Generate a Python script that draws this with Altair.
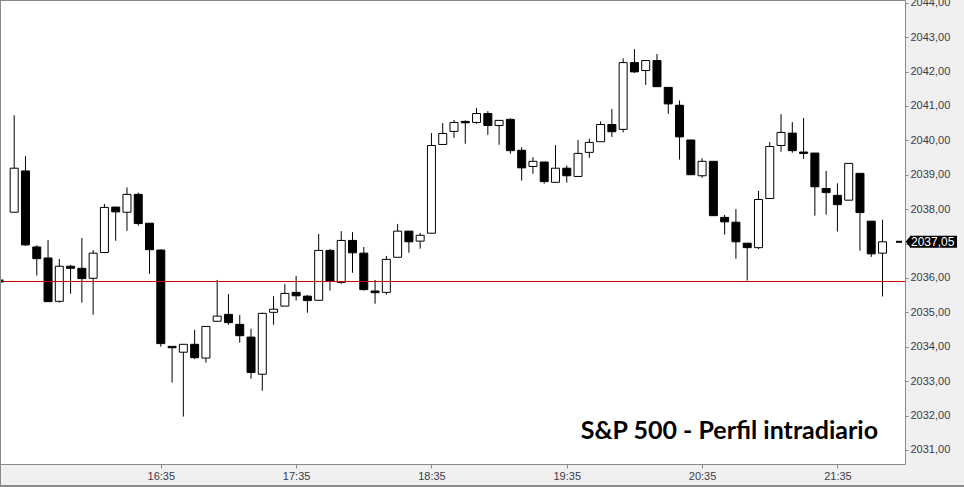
import altair as alt
import pandas as pd

# ---- data (5-minute candles, 15:30 .. 21:55) ----
opens = [2037.91, 2039.11, 2036.90, 2036.58, 2035.32, 2036.34, 2036.28, 2035.99, 2036.74, 2038.06,
         2037.91, 2038.43, 2037.59, 2036.81, 2034.01, 2033.84, 2034.07, 2033.67, 2034.74, 2034.94,
         2034.65, 2034.28, 2033.20, 2035.00, 2035.18, 2035.58, 2035.47, 2035.35, 2036.80, 2035.87,
         2037.09, 2036.72, 2035.62, 2035.58, 2036.60, 2037.36, 2037.07, 2037.30, 2039.88, 2040.26,
         2040.55, 2040.52, 2040.78, 2040.43, 2040.61, 2039.71, 2039.24, 2039.37, 2038.78, 2039.19,
         2038.95, 2039.65, 2039.96, 2040.46, 2040.32, 2042.26, 2042.03, 2042.32, 2041.54, 2041.02,
         2040.01, 2038.97, 2039.39, 2037.76, 2037.62, 2037.01, 2036.88, 2038.31, 2039.85, 2040.21,
         2039.66, 2039.63, 2038.60, 2038.40, 2038.26, 2039.04, 2037.65, 2036.72]
highs = [2040.73, 2039.54, 2036.95, 2037.10, 2036.55, 2036.38, 2037.16, 2036.81, 2038.15, 2038.06,
         2038.63, 2038.48, 2037.59, 2036.83, 2034.01, 2034.07, 2034.49, 2034.59, 2035.94, 2035.53,
         2034.92, 2034.52, 2034.99, 2035.47, 2035.82, 2036.06, 2035.50, 2037.28, 2036.84, 2037.36,
         2037.33, 2036.90, 2035.94, 2036.64, 2037.57, 2037.36, 2037.31, 2040.21, 2040.50, 2040.59,
         2040.58, 2040.94, 2040.85, 2040.58, 2040.64, 2039.80, 2039.51, 2039.37, 2039.86, 2039.27,
         2040.01, 2040.05, 2040.55, 2040.91, 2042.38, 2042.65, 2042.32, 2042.51, 2041.54, 2041.16,
         2040.01, 2039.48, 2039.39, 2037.83, 2038.00, 2037.01, 2038.53, 2039.95, 2040.76, 2040.53,
         2040.65, 2039.63, 2039.11, 2038.75, 2039.33, 2039.04, 2037.65, 2037.69]
lows = [2037.91, 2036.93, 2036.07, 2035.31, 2035.28, 2035.54, 2035.28, 2034.93, 2036.72, 2037.08,
        2037.37, 2037.52, 2036.12, 2034.00, 2032.96, 2031.97, 2033.64, 2033.54, 2034.74, 2034.64,
        2034.12, 2033.07, 2032.72, 2034.64, 2035.18, 2035.34, 2034.99, 2035.35, 2035.63, 2035.83,
        2036.15, 2035.63, 2035.25, 2035.51, 2036.60, 2036.73, 2036.85, 2037.30, 2039.88, 2040.07,
        2039.90, 2040.48, 2040.16, 2039.87, 2039.61, 2038.83, 2039.03, 2038.74, 2038.78, 2038.77,
        2038.95, 2039.49, 2039.96, 2040.10, 2040.23, 2041.96, 2041.61, 2041.56, 2040.77, 2039.44,
        2039.00, 2038.91, 2037.81, 2037.26, 2036.56, 2035.92, 2036.84, 2038.31, 2039.67, 2039.64,
        2039.46, 2037.81, 2037.84, 2037.35, 2038.26, 2036.79, 2036.61, 2035.46]
closes = [2039.19, 2036.96, 2036.56, 2035.31, 2036.34, 2036.28, 2035.98, 2036.72, 2038.05, 2037.92,
          2038.43, 2037.58, 2036.82, 2034.09, 2033.97, 2034.07, 2033.68, 2034.59, 2034.89, 2034.70,
          2034.32, 2033.25, 2034.97, 2035.09, 2035.55, 2035.48, 2035.34, 2036.80, 2035.90, 2037.09,
          2036.73, 2035.66, 2035.57, 2036.54, 2037.36, 2037.05, 2037.24, 2039.85, 2040.20, 2040.52,
          2040.51, 2040.78, 2040.43, 2040.58, 2039.70, 2039.20, 2039.39, 2038.80, 2039.19, 2038.97,
          2039.62, 2039.94, 2040.46, 2040.25, 2042.26, 2041.99, 2042.32, 2041.56, 2041.06, 2040.10,
          2039.00, 2039.39, 2037.81, 2037.63, 2037.05, 2036.88, 2038.28, 2039.82, 2040.23, 2039.70,
          2039.62, 2038.65, 2038.48, 2038.13, 2039.33, 2037.90, 2036.70, 2037.05]

x_tick_pos = [13, 25, 37, 49, 61, 73]
x_tick_labels = ["16:35", "17:35", "18:35", "19:35", "20:35", "21:35"]
y_ticks = list(range(2031, 2045))
ref_level = 2035.91
last_price = 2037.05
last_price_label = "2037,05"
hidden_tick_label = 2037  # covered by the last-price tag in the reference
title_text = "S&P 500 - Perfil intradiario"

df = pd.DataFrame({
    "i": list(range(len(opens))),
    "open": opens, "high": highs, "low": lows, "close": closes,
})

W, H = 905, 464
xs = alt.Scale(domain=[-0.816, 78.55], nice=False, zero=False)
ys = alt.Scale(domain=[2030.59, 2044.08], nice=False, zero=False)

label_expr = "[" + ",".join(f"'{l}'" for l in x_tick_labels) + \
    f"][round((datum.value-{x_tick_pos[0]})/12)]"
y_label_expr = (f"datum.value == {hidden_tick_label} ? '' : "
                "replace(format(datum.value, '.2f'), '.', ',')")

x_axis = alt.Axis(values=x_tick_pos, labelExpr=label_expr, title=None, grid=False,
                  domain=False, tickSize=4, tickColor="#8a8a8a", labelFont="Liberation Sans",
                  labelFontSize=11, labelColor="#3a3a4a", labelPadding=2, orient="bottom",
                  labelFlush=False, labelOverlap=False)
y_axis = alt.Axis(values=y_ticks, labelExpr=y_label_expr,
                  title=None, grid=False, domain=False, tickSize=3, tickColor="#8a8a8a",
                  labelFont="Liberation Sans", labelFontSize=11, labelColor="#3a3a4a",
                  labelPadding=2, orient="right", labelFlush=False, labelOverlap=False)

base = alt.Chart(df)

wicks = base.mark_rule(color="black", strokeWidth=1).encode(
    x=alt.X("i:Q", scale=xs, axis=x_axis),
    y=alt.Y("low:Q", scale=ys, axis=y_axis),
    y2="high:Q",
)

bodies = base.mark_bar(size=8, stroke="black", strokeWidth=1).encode(
    x=alt.X("i:Q", scale=xs, axis=x_axis),
    y=alt.Y("open:Q", scale=ys, axis=y_axis),
    y2="close:Q",
    fill=alt.condition("datum.close > datum.open", alt.value("white"), alt.value("black")),
)

level_df = pd.DataFrame({"level": [ref_level]})
level_line = alt.Chart(level_df).mark_rule(color="#c80000", strokeWidth=1, yOffset=0.5).encode(
    y=alt.Y("level:Q", scale=ys, axis=y_axis),
)
level_marker = alt.Chart(level_df).mark_square(color="black", size=9, opacity=1).encode(
    x=alt.value(2), y=alt.Y("level:Q", scale=ys, axis=y_axis),
)

lp_df = pd.DataFrame({"p": [last_price], "top": [last_price + 0.175],
                      "bot": [last_price - 0.175], "lab": [last_price_label]})
lp_dash = alt.Chart(lp_df).mark_rule(color="black", strokeWidth=2, clip=False).encode(
    x=alt.value(896), x2=alt.value(902), y=alt.Y("p:Q", scale=ys, axis=y_axis),
)
lp_box = alt.Chart(lp_df).mark_rect(color="black", clip=False).encode(
    x=alt.value(910), x2=alt.value(957), y=alt.Y("top:Q", scale=ys, axis=y_axis), y2="bot:Q",
)
lp_arrow = alt.Chart(lp_df).mark_point(shape="M -0.8 0 L 0 -1 L 0 1 Z", filled=True,
                                        color="black", size=144, opacity=1,
                                        clip=False).encode(
    x=alt.value(910.5), y=alt.Y("p:Q", scale=ys, axis=y_axis),
)
lp_text = alt.Chart(lp_df).mark_text(align="left", baseline="middle", color="white",
                                      font="Liberation Sans", fontSize=12,
                                      clip=False).encode(
    x=alt.value(911), y=alt.Y("p:Q", scale=ys, axis=y_axis), text="lab:N",
)

title_df = pd.DataFrame({"t": [title_text]})
title = alt.Chart(title_df).mark_text(align="right", baseline="alphabetic", font="Lato",
                                      fontWeight="bold", fontSize=25, color="black").encode(
    x=alt.value(878), y=alt.value(439), text="t:N",
)

frame_df = pd.DataFrame({"a": [0]})
bottom_border = alt.Chart(frame_df).mark_rule(color="#8a8a8a", strokeWidth=2, clip=False).encode(
    x=alt.value(0), x2=alt.value(964), y=alt.value(486),
)
left_border = alt.Chart(frame_df).mark_rule(color="#8a8a8a", strokeWidth=2, clip=False).encode(
    x=alt.value(0), y=alt.value(0), y2=alt.value(487),
)

chart = alt.layer(
    wicks, bodies, level_line, level_marker, lp_dash, lp_box, lp_arrow, lp_text, title,
    bottom_border, left_border,
).properties(
    width=W, height=H,
    autosize=alt.AutoSizeParams(type="none"),
    padding={"left": 0, "top": 0, "right": 59, "bottom": 23},
    background="#f0f0f0",
).configure_view(
    fill="white", stroke="#8a8a8a", strokeWidth=1,
).configure_axis(
    labelOverlap=False, labelFlush=False,
)

chart.save("out.html", embed_options={"renderer": "svg", "actions": False})
